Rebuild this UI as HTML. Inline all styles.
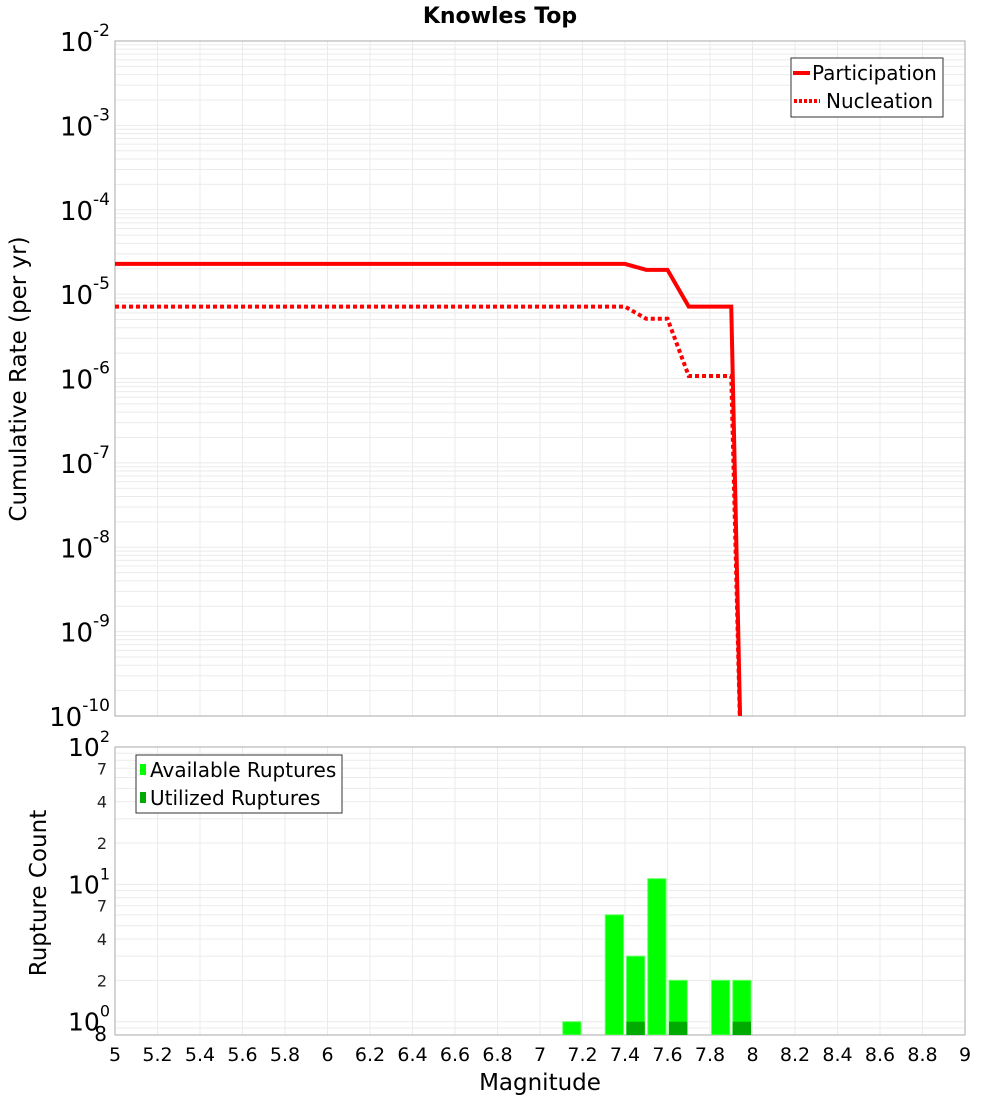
<!DOCTYPE html>
<html><head><meta charset="utf-8"><style>
body{margin:0;background:#fff;}
svg{display:block;font-family:"DejaVu Sans","Liberation Sans",sans-serif;}
</style></head><body>
<svg id="c" width="1000" height="1100" xmlns="http://www.w3.org/2000/svg"></svg>
<script>
const mags=[5,7.4,7.5,7.6,7.7,7.9,7.95];
const partic=[2.28e-5,2.28e-5,1.94e-5,1.94e-5,7.1e-6,7.1e-6,1e-11];
const nucl=[7.1e-6,7.1e-6,5.1e-6,5.1e-6,1.07e-6,1.07e-6,1e-11];
const barMags=[7.15,7.35,7.45,7.55,7.65,7.85,7.95];
const availCounts=[1,6,3,11,2,2,2];
const usedCounts=[0,0,1,0,1,0,1];
const xTicks=[5,5.2,5.4,5.6,5.8,6,6.2,6.4,6.6,6.8,7,7.2,7.4,7.6,7.8,8,8.2,8.4,8.6,8.8,9];

const NS="http://www.w3.org/2000/svg";
const svg=document.getElementById('c');
function el(tag,attrs,parent){const e=document.createElementNS(NS,tag);for(const k in attrs)e.setAttribute(k,attrs[k]);(parent||svg).appendChild(e);return e;}
const X0=115,X1=965;
const x=v=>X0+(v-5)/4*(X1-X0);
const T0=41,T1=716;
const yT=v=>T0+(-2-Math.log10(v))/8*(T1-T0);
const B0=747,B1=1035;
const yB=v=>B0+(2-Math.log10(v))/(2-Math.log10(0.8))*(B1-B0);

const defs=el('defs',{});
const cp=el('clipPath',{id:'cpT'},defs);el('rect',{x:X0,y:T0,width:X1-X0,height:T1-T0},cp);
const cpb=el('clipPath',{id:'cpB'},defs);el('rect',{x:X0,y:B0,width:X1-X0,height:B1-B0},cpb);

const grid=el('g',{stroke:'#ebebeb','stroke-width':1});

xTicks.forEach(t=>{el('line',{x1:x(t),x2:x(t),y1:T0,y2:T1},grid);el('line',{x1:x(t),x2:x(t),y1:B0,y2:B1},grid);});
for(let d=-10;d<-2;d++)for(let m=1;m<10;m++){const yy=yT(m*Math.pow(10,d));el('line',{x1:X0,x2:X1,y1:yy,y2:yy},grid);}
[0.8,0.9,1,2,3,4,5,6,7,8,9,10,20,30,40,50,60,70,80,90,100].forEach(v=>{const yy=yB(v);el('line',{x1:X0,x2:X1,y1:yy,y2:yy},grid);});

let f=el('rect',{x:X0,y:T0,width:X1-X0,height:T1-T0,fill:'none',stroke:'#aaa'});

f=el('rect',{x:X0,y:B0,width:X1-X0,height:B1-B0,fill:'none',stroke:'#aaa'});


let t=el('text',{x:500,y:23,'text-anchor':'middle','font-size':22,'font-weight':'bold'});t.textContent='Knowles Top';


function pts(arr){return mags.map((m,i)=>x(m)+','+yT(arr[i])).join(' ');}
let p=el('polyline',{points:pts(partic),fill:'none',stroke:'#f00','stroke-width':4,'clip-path':'url(#cpT)'});

p=el('polyline',{points:pts(nucl),fill:'none',stroke:'#f00','stroke-width':4,'stroke-dasharray':'4,3','clip-path':'url(#cpT)'});


const bw=x(0.1+5)-x(5);
barMags.forEach((m,i)=>{
 let r=el('rect',{x:x(m)-bw/2+1.5,y:yB(availCounts[i]),width:bw-3,height:B1-yB(availCounts[i]),fill:'#00ff00',stroke:'#6f6','stroke-width':1,'clip-path':'url(#cpB)'});
 
 if(usedCounts[i]>0){r=el('rect',{x:x(m)-bw/2+1.5,y:yB(usedCounts[i]),width:bw-3,height:B1-yB(usedCounts[i]),fill:'#00aa00','clip-path':'url(#cpB)'});
 }
});

for(let d=-2;d>=-10;d--){
 const g=el('text',{x:110,y:yT(Math.pow(10,d))+10,'text-anchor':'end','font-size':26});
 
 const a=el('tspan',{},g);a.textContent='10';
 const b=el('tspan',{dy:-15,'font-size':17},g);b.textContent=String(d);
}
[[100,'2'],[10,'1'],[1,'0']].forEach(([v,e])=>{
 const g=el('text',{x:110,y:yB(v)+9,'text-anchor':'end','font-size':25});
 
 const a=el('tspan',{},g);a.textContent='10';
 const b=el('tspan',{dy:-14,'font-size':16},g);b.textContent=e;
});
[[70,'7'],[40,'4'],[20,'2'],[7,'7'],[4,'4'],[2,'2'],[0.8,'8']].forEach(([v,s])=>{
 const g=el('text',{x:107,y:yB(v)+6,'text-anchor':'end','font-size':v==0.8?20:16,fill:v==0.8?'#000':'#222'});g.textContent=s;
 
});
xTicks.forEach(v=>{const g=el('text',{x:x(v),y:1061,'text-anchor':'middle','font-size':19});g.textContent=String(v);
 });
t=el('text',{x:540,y:1090,'text-anchor':'middle','font-size':23});t.textContent='Magnitude';

t=el('text',{x:0,y:0,'text-anchor':'middle','font-size':23,transform:'translate(26,379) rotate(-90)'});t.textContent='Cumulative Rate (per yr)';

t=el('text',{x:0,y:0,'text-anchor':'middle','font-size':23,transform:'translate(46,893) rotate(-90)'});t.textContent='Rupture Count';


let lg=el('g',{});
el('rect',{x:791,y:58,width:152,height:59,fill:'#fff',stroke:'#333'},lg);
el('line',{x1:793,x2:810,y1:73,y2:73,stroke:'#f00','stroke-width':4},lg);
el('line',{x1:794,x2:820,y1:101,y2:101,stroke:'#f00','stroke-width':4,'stroke-dasharray':'3,2'},lg);
t=el('text',{x:812,y:80,'font-size':20},lg);t.textContent='Participation';
t=el('text',{x:826,y:108,'font-size':20},lg);t.textContent='Nucleation';
lg=el('g',{});
el('rect',{x:136,y:755,width:206,height:58,fill:'#fff',stroke:'#333'},lg);
el('rect',{x:140,y:764,width:6,height:11,fill:'#00ff00'},lg);
el('rect',{x:140,y:792,width:6,height:11,fill:'#00aa00'},lg);
t=el('text',{x:150,y:777,'font-size':20},lg);t.textContent='Available Ruptures';
t=el('text',{x:150,y:805,'font-size':20},lg);t.textContent='Utilized Ruptures';
</script>
</body></html>
